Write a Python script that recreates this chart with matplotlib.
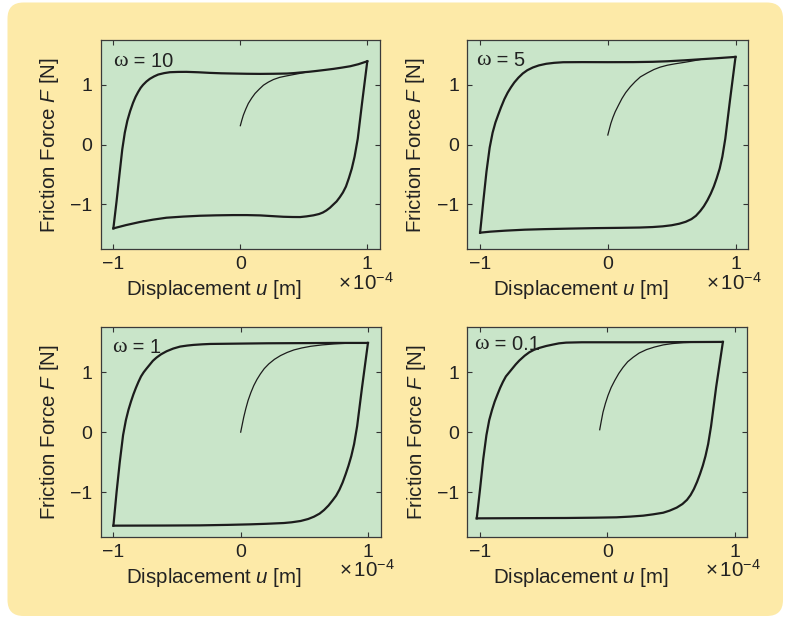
import numpy as np
import matplotlib
matplotlib.use("Agg")
import matplotlib.pyplot as plt
from matplotlib.patches import FancyBboxPatch

plt.rcParams.update({
    "font.family": ["Liberation Sans", "DejaVu Sans"],
    "mathtext.fontset": "custom",
    "mathtext.rm": "Liberation Sans",
    "mathtext.it": "Liberation Sans:italic",
    "mathtext.bf": "Liberation Sans:bold",
    "axes.unicode_minus": True,
})

# Displacement u in units of 1e-4 m, friction force F in N
# --- omega = 10 ---
w10_up_u = [-1.0, -0.975, -0.952, -0.930, -0.910, -0.890, -0.868, -0.845, -0.825, -0.805,
            -0.785, -0.766, -0.74, -0.713, -0.68, -0.647, -0.60, -0.555, -0.49, -0.424,
            -0.33, -0.24, -0.15, -0.055, 0.05, 0.155, 0.26, 0.366, 0.42, 0.471, 0.54,
            0.603, 0.67, 0.734, 0.80, 0.866, 0.93, 1.0]
w10_up_F = [-1.40, -0.95, -0.50, -0.08, 0.20, 0.40, 0.56, 0.70, 0.80, 0.88,
            0.95, 1.00, 1.055, 1.100, 1.140, 1.172, 1.196, 1.211, 1.216, 1.217,
            1.21, 1.2, 1.193, 1.189, 1.185, 1.183, 1.185, 1.189, 1.196, 1.206, 1.218,
            1.233, 1.25, 1.267, 1.288, 1.311, 1.345, 1.394]
w10_lo_u = [1.0, 0.959, 0.925, 0.900, 0.878, 0.855, 0.832, 0.808, 0.783, 0.758, 0.733,
            0.706, 0.678, 0.650, 0.620, 0.576, 0.52, 0.471, 0.41, 0.339, 0.25, 0.155,
            0.05, -0.055, -0.19, -0.318, -0.45, -0.582, -0.69, -0.792, -0.90, -1.0]
w10_lo_F = [1.394, 0.70, 0.10, -0.20, -0.40, -0.56, -0.70, -0.80, -0.88, -0.95, -1.00,
            -1.055, -1.100, -1.135, -1.160, -1.182, -1.20, -1.211, -1.21, -1.206, -1.195,
            -1.183, -1.178, -1.178, -1.182, -1.189, -1.203, -1.222, -1.255, -1.294,
            -1.345, -1.40]
w10_init_u = [0.0, 0.012, 0.024, 0.043, 0.063, 0.09, 0.116, 0.15, 0.182, 0.22, 0.261,
              0.31, 0.366, 0.42, 0.471, 0.52]
w10_init_F = [0.317, 0.41, 0.494, 0.595, 0.689, 0.78, 0.856, 0.93, 0.994, 1.045, 1.089,
              1.125, 1.15, 1.172, 1.192, 1.212]

# --- omega = 5 ---
w5_up_u = [-1.0, -0.975, -0.950, -0.925, -0.902, -0.880, -0.858, -0.837, -0.81, -0.784,
           -0.758, -0.732, -0.70, -0.666, -0.63, -0.587, -0.54, -0.482, -0.42, -0.35,
           -0.2, 0.0, 0.203, 0.35, 0.466, 0.6, 0.729, 0.86, 1.0]
w5_up_F = [-1.472, -0.95, -0.45, -0.05, 0.20, 0.37, 0.50, 0.62, 0.76, 0.87,
           0.96, 1.04, 1.12, 1.19, 1.245, 1.29, 1.325, 1.352, 1.368, 1.378,
           1.38, 1.379, 1.38, 1.385, 1.394, 1.41, 1.428, 1.446, 1.467]
w5_lo_u = [1.0, 0.956, 0.920, 0.897, 0.876, 0.853, 0.830, 0.806, 0.780, 0.752, 0.724,
           0.69, 0.655, 0.61, 0.56, 0.50, 0.43, 0.35, 0.25, 0.10, -0.1, -0.3, -0.5,
           -0.65, -0.80, -0.92, -1.0]
w5_lo_F = [1.467, 0.73, 0.10, -0.20, -0.40, -0.56, -0.70, -0.82, -0.93, -1.03, -1.11,
           -1.19, -1.245, -1.29, -1.322, -1.348, -1.366, -1.378, -1.386, -1.391, -1.396,
           -1.404, -1.413, -1.422, -1.438, -1.455, -1.472]
w5_init_u = [0.0, 0.012, 0.024, 0.04, 0.058, 0.085, 0.111, 0.14, 0.176, 0.215, 0.255,
             0.31, 0.361, 0.41, 0.466, 0.53, 0.597, 0.66, 0.729]
w5_init_F = [0.161, 0.26, 0.356, 0.455, 0.55, 0.665, 0.772, 0.87, 0.967, 1.055, 1.133,
             1.2, 1.256, 1.296, 1.328, 1.353, 1.375, 1.398, 1.425]

# --- omega = 1 ---
w1_up_u = [-1.0, -0.975, -0.950, -0.924, -0.902, -0.882, -0.862, -0.843, -0.823, -0.803,
           -0.783, -0.762, -0.74, -0.713, -0.69, -0.661, -0.625, -0.582, -0.53, -0.476,
           -0.42, -0.371, -0.3, -0.239, 0.0, 0.208, 0.5, 0.734, 1.0]
w1_up_F = [-1.561, -1.00, -0.50, -0.05, 0.20, 0.37, 0.51, 0.63, 0.74, 0.84,
           0.93, 1.00, 1.06, 1.13, 1.19, 1.245, 1.30, 1.35, 1.395, 1.428,
           1.445, 1.456, 1.466, 1.472, 1.478, 1.483, 1.486, 1.489, 1.489]
w1_lo_u = [1.0, 0.953, 0.915, 0.891, 0.869, 0.847, 0.825, 0.801, 0.776, 0.750, 0.722,
           0.69, 0.655, 0.62, 0.576, 0.53, 0.471, 0.40, 0.339, 0.2, 0.076, -0.1, -0.318,
           -0.6, -1.0]
w1_lo_F = [1.489, 0.74, 0.10, -0.20, -0.40, -0.56, -0.70, -0.84, -0.96, -1.06, -1.14,
           -1.225, -1.30, -1.36, -1.411, -1.45, -1.483, -1.505, -1.517, -1.53, -1.539,
           -1.548, -1.556, -1.559, -1.561]
w1_init_u = [0.0, 0.012, 0.024, 0.04, 0.058, 0.08, 0.103, 0.128, 0.155, 0.185, 0.221,
             0.265, 0.313, 0.365, 0.418, 0.48, 0.55, 0.64, 0.734, 0.85]
w1_init_F = [0.0, 0.125, 0.25, 0.39, 0.528, 0.66, 0.778, 0.88, 0.972, 1.06, 1.139,
             1.215, 1.278, 1.33, 1.372, 1.405, 1.433, 1.456, 1.472, 1.485]

# --- omega = 0.1 ---
w01_up_u = [-1.026, -1.000, -0.975, -0.950, -0.928, -0.906, -0.885, -0.863, -0.842,
            -0.820, -0.797, -0.77, -0.745, -0.72, -0.692, -0.65, -0.613, -0.575, -0.534,
            -0.48, -0.429, -0.38, -0.324, -0.2, 0.0, 0.203, 0.5, 0.7, 0.908]
w01_up_F = [-1.439, -0.95, -0.45, -0.05, 0.20, 0.37, 0.51, 0.63, 0.74,
            0.84, 0.93, 1.00, 1.065, 1.13, 1.194, 1.275, 1.333, 1.375, 1.406,
            1.438, 1.461, 1.482, 1.494, 1.5, 1.5, 1.5, 1.502, 1.504, 1.506]
w01_lo_u = [0.908, 0.855, 0.815, 0.792, 0.771, 0.750, 0.728, 0.705, 0.680, 0.654, 0.626,
            0.59, 0.545, 0.49, 0.439, 0.36, 0.282, 0.18, 0.071, -0.1, -0.324, -0.7, -1.026]
w01_lo_F = [1.506, 0.753, 0.10, -0.20, -0.40, -0.56, -0.70, -0.83, -0.95, -1.05, -1.13,
            -1.20, -1.26, -1.31, -1.345, -1.372, -1.394, -1.41, -1.422, -1.428, -1.433,
            -1.436, -1.439]
w01_init_u = [-0.06, -0.047, -0.034, -0.015, 0.005, 0.03, 0.058, 0.09, 0.124, 0.16, 0.203,
              0.25, 0.308, 0.37, 0.439, 0.51, 0.597, 0.69, 0.782, 0.86]
w01_init_F = [0.04, 0.19, 0.333, 0.48, 0.611, 0.745, 0.861, 0.98, 1.083, 1.175, 1.25,
              1.32, 1.378, 1.42, 1.456, 1.478, 1.494, 1.501, 1.504, 1.505]

omega_labels = ["10", "5", "1", "0.1"]
x_ticks = [-1, 0, 1]
y_ticks = [-1, 0, 1]
x_tick_labels = ["\u22121", "0", "1"]
y_tick_labels = ["\u22121", "0", "1"]

panels = [
    dict(label=omega_labels[0], up=(w10_up_u, w10_up_F), lo=(w10_lo_u, w10_lo_F),
         init=(w10_init_u, w10_init_F), rect=[0.1276, 0.5966, 0.3540, 0.3387],
         lab_xy=(0.045, 0.876)),
    dict(label=omega_labels[1], up=(w5_up_u, w5_up_F), lo=(w5_lo_u, w5_lo_F),
         init=(w5_init_u, w5_init_F), rect=[0.5923, 0.5966, 0.3561, 0.3387],
         lab_xy=(0.033, 0.882)),
    dict(label=omega_labels[2], up=(w1_up_u, w1_up_F), lo=(w1_lo_u, w1_lo_F),
         init=(w1_init_u, w1_init_F), rect=[0.1276, 0.1311, 0.3549, 0.3393],
         lab_xy=(0.040, 0.880)),
    dict(label=omega_labels[3], up=(w01_up_u, w01_up_F), lo=(w01_lo_u, w01_lo_F),
         init=(w01_init_u, w01_init_F), rect=[0.5923, 0.1311, 0.3549, 0.3393],
         lab_xy=(0.024, 0.897)),
]

PANEL_BG = "#FDEAA8"
AXES_BG = "#C9E5C9"
INK = "#1c1c1c"
TEXT = "#222222"
FS_LABEL = 14.8
FS_TICK = 14
FS_OMEGA = 14.5

fig = plt.figure(figsize=(7.89, 6.18), dpi=100)
fig.patch.set_facecolor("white")

# rounded yellow panel behind the four plots (inch coordinates)
panel = FancyBboxPatch((0.075, 0.02), 7.755, 6.135,
                       boxstyle="round,pad=0,rounding_size=0.16",
                       transform=fig.dpi_scale_trans,
                       facecolor=PANEL_BG, edgecolor="none", zorder=-10)
fig.patches.append(panel)

for p in panels:
    ax = fig.add_axes(p["rect"])
    ax.set_zorder(1)
    ax.set_facecolor(AXES_BG)
    ax.plot(*p["up"], color=INK, lw=1.6, solid_joinstyle="round")
    ax.plot(*p["lo"], color=INK, lw=1.6, solid_joinstyle="round")
    ax.plot(*p["init"], color=INK, lw=0.9)

    ax.set_xlim(-1.1, 1.1)
    ax.set_ylim(-1.75, 1.75)
    ax.set_xticks(x_ticks)
    ax.set_xticklabels(x_tick_labels)
    ax.set_yticks(y_ticks)
    ax.set_yticklabels(y_tick_labels)
    ax.tick_params(direction="in", top=True, right=True, length=3.5, width=0.8,
                   color="#333333", labelsize=FS_TICK, labelcolor=TEXT)
    ax.tick_params(axis="x", pad=5.0)
    ax.tick_params(axis="y", pad=6)
    for s in ax.spines.values():
        s.set_color("#3a3a3a")
        s.set_linewidth(0.9)

    ax.set_xlabel(r"Displacement $u$ [m]", fontsize=FS_LABEL, color=TEXT)
    ax.xaxis.set_label_coords(0.406, -0.137)
    ax.xaxis.label.set_va("top")
    ax.set_ylabel(r"Friction Force $F$ [N]", fontsize=FS_LABEL, color=TEXT)
    ax.yaxis.set_label_coords(-0.142, 0.5)

    ax.text(0.85, -0.192, r"$\times\,10^{-4}$", transform=ax.transAxes,
            fontsize=FS_LABEL, color=TEXT, ha="left", va="baseline")

    om = ax.text(p["lab_xy"][0], p["lab_xy"][1], "\u03c9", transform=ax.transAxes,
                 fontsize=FS_OMEGA + 1.5, family="Liberation Serif", color=TEXT,
                 ha="left", va="baseline")
    ax.annotate(" = " + p["label"], xy=(1, 0), xycoords=om, fontsize=FS_OMEGA,
                color=TEXT, ha="left", va="bottom")

fig.savefig("out.png", dpi=100)
